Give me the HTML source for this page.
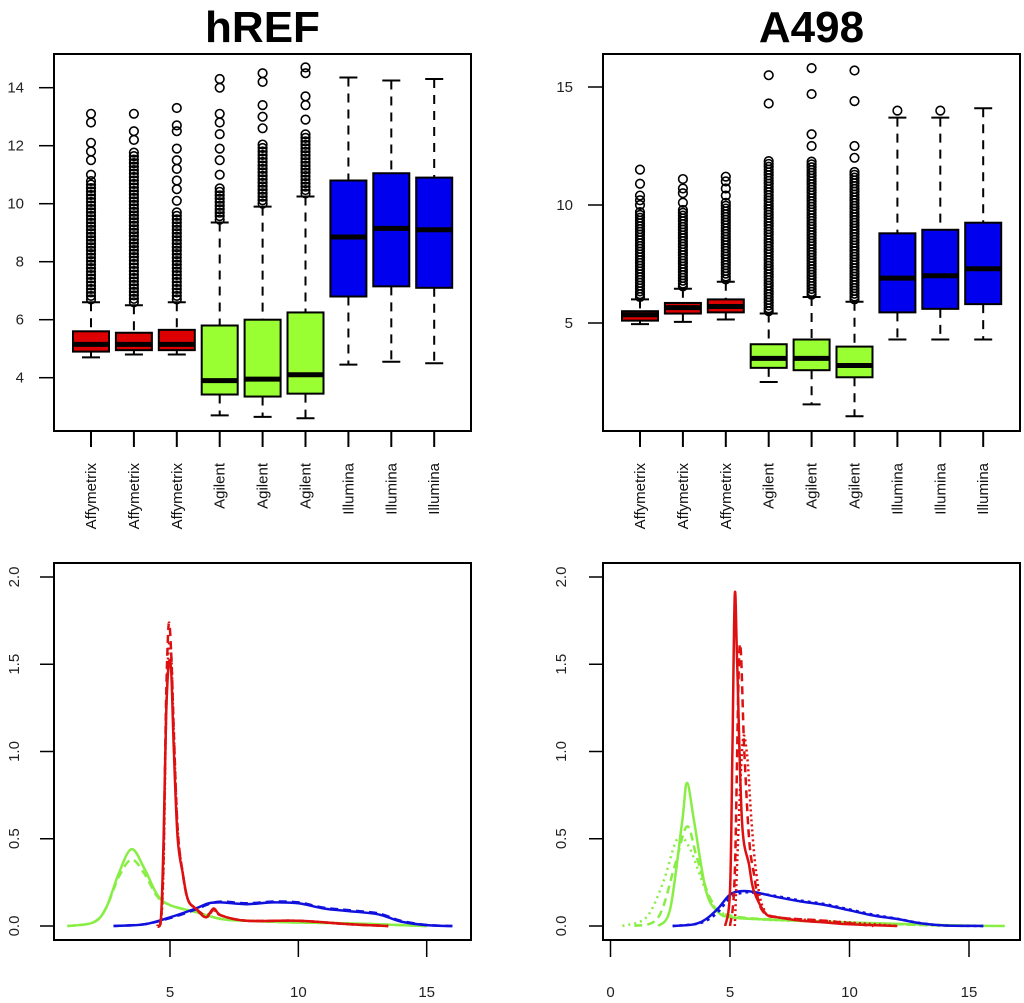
<!DOCTYPE html>
<html><head><meta charset="utf-8"><style>
body{margin:0;background:#fff}
svg{display:block;font-family:"Liberation Sans",sans-serif}
</style></head><body>
<svg id="fig" width="1024" height="1003"></svg>
<script>
// ---- Boxplot data (min, q1, median, q3, max) ----
const boxCategories = ["Affymetrix","Affymetrix","Affymetrix","Agilent","Agilent","Agilent","Illumina","Illumina","Illumina"];
const boxColors = ["#dd0000","#dd0000","#dd0000","#99ff33","#99ff33","#99ff33","#0000ee","#0000ee","#0000ee"];
const hrefMin = [4.7,4.8,4.8,2.7,2.65,2.6,4.45,4.55,4.5];
const hrefQ1 = [4.9,4.95,4.95,3.42,3.35,3.45,6.8,7.15,7.1];
const hrefMed = [5.15,5.15,5.15,3.9,3.95,4.1,8.85,9.15,9.1];
const hrefQ3 = [5.6,5.55,5.65,5.8,6.0,6.25,10.8,11.05,10.9];
const hrefMax = [6.6,6.5,6.6,9.35,9.9,10.25,14.35,14.25,14.3];
const hrefDenseTop = [10.8,11.8,9.8,10.6,12.1,12.5,null,null,null];
const hrefOutliers = [[11.0,11.5,11.8,12.1,12.8,13.1],[12.2,12.5,13.1],[10.1,10.5,10.8,11.2,11.5,11.9,12.5,12.7,13.3],[11.0,11.5,11.9,12.4,12.8,13.1,14.0,14.3],[12.6,13.0,13.4,14.2,14.5],[12.9,13.4,13.7,14.5,14.7],[],[],[]];
const a498Min = [4.95,5.05,5.15,2.5,1.55,1.05,4.3,4.3,4.3];
const a498Q1 = [5.1,5.4,5.45,3.1,3.0,2.7,5.45,5.6,5.8];
const a498Med = [5.35,5.65,5.7,3.5,3.5,3.2,6.9,7.0,7.3];
const a498Q3 = [5.5,5.85,6.0,4.1,4.3,4.0,8.8,8.95,9.25];
const a498Max = [6.0,6.45,6.75,5.4,6.1,5.9,13.7,13.7,14.1];
const a498DenseTop = [9.7,9.8,10.2,11.9,11.9,11.5,null,null,null];
const a498Outliers = [[10.0,10.2,10.4,10.9,11.5],[10.1,10.5,10.7,11.1],[10.4,10.7,11.0,11.2],[14.3,15.5],[12.5,13.0,14.7,15.8],[12.0,12.5,14.4,15.7],[14.0],[14.0],[]];
const hrefTicks = [4,6,8,10,12,14];
const a498Ticks = [5,10,15];
// ---- Density data ----
const leftRedX = [4.5,4.65,4.75,4.85,4.95,5.05,5.15,5.3,5.5,5.7,6.0,6.4,6.7,7.0,8,10,12,13.5];
const leftRedY = [0,0.05,0.5,1.2,1.5,1.45,1.0,0.5,0.3,0.15,0.1,0.05,0.1,0.06,0.03,0.03,0.01,0];
const leftRedY2 = [0,0.04,0.4,1.3,1.73,1.55,1.1,0.55,0.3,0.15,0.1,0.06,0.09,0.06,0.03,0.03,0.01,0];
const leftRedY3 = [0,0.03,0.35,1.2,1.6,1.55,1.1,0.55,0.3,0.15,0.1,0.05,0.09,0.06,0.03,0.03,0.01,0];
const leftGreenX = [1.0,2.0,2.5,3.0,3.5,4.0,4.5,5.0,6.0,7.0,8.0,10,12,14,15];
const leftGreenY = [0,0.02,0.1,0.3,0.44,0.33,0.18,0.12,0.08,0.04,0.03,0.02,0.015,0.005,0];
const leftGreenY2 = [0,0.02,0.1,0.28,0.38,0.3,0.17,0.12,0.08,0.04,0.03,0.02,0.015,0.005,0];
const leftBlueX = [2.8,4,5,6,6.5,7,8,9,10,11,12,13,13.5,14,15,16];
const leftBlueY = [0,0.01,0.05,0.1,0.13,0.135,0.125,0.135,0.13,0.1,0.085,0.07,0.05,0.025,0.005,0];
const leftBlueY2 = [0,0.01,0.045,0.095,0.125,0.14,0.13,0.14,0.135,0.105,0.09,0.075,0.055,0.03,0.006,0];
const rightRedX = [4.8,5.0,5.1,5.2,5.3,5.5,5.8,6.0,6.5,7,8,9,10,12];
const rightRedY = [0,0.2,1.0,1.9,1.5,0.6,0.35,0.2,0.07,0.05,0.03,0.02,0.01,0];
const rightRed2X = [5.0,5.2,5.4,5.6,5.8,6.0,6.3,7,9,11];
const rightRed2Y = [0,0.3,1.6,1.0,0.5,0.3,0.1,0.05,0.03,0];
const rightRed3X = [5.2,5.5,5.7,5.9,6.1,6.4,7,10,12];
const rightRed3Y = [0,1.0,1.0,0.6,0.3,0.1,0.05,0.02,0];
const rightGreenX = [2,2.5,3.0,3.2,3.5,4,4.5,5,6,8,10,14,16.5];
const rightGreenY = [0,0.1,0.6,0.82,0.6,0.2,0.08,0.05,0.04,0.03,0.02,0.005,0];
const rightGreen2X = [1,2,2.7,3.2,3.6,4.2,5,8,12,15];
const rightGreen2Y = [0,0.05,0.35,0.57,0.4,0.15,0.06,0.03,0.01,0];
const rightGreen3X = [0.5,1.5,2.2,2.8,3.3,4,4.6,6,10,14];
const rightGreen3Y = [0,0.05,0.25,0.5,0.45,0.2,0.08,0.04,0.02,0];
const rightBlueX = [2.6,3.5,4,4.5,5,5.5,6,7,8,9,10,11,12,13,14,15.6];
const rightBlueY = [0,0.01,0.04,0.1,0.18,0.2,0.195,0.165,0.14,0.12,0.09,0.06,0.04,0.015,0.003,0];
const rightBlueY2 = [0,0.01,0.03,0.08,0.16,0.19,0.19,0.17,0.145,0.125,0.095,0.065,0.042,0.016,0.003,0];
const densTicks = [0,0.5,1.0,1.5,2.0];
const leftXTicks = [5,10,15];
const rightXTicks = [0,5,10,15];

const NS="http://www.w3.org/2000/svg";
const svg=document.getElementById('fig');
function el(tag,attrs,parent){const e=document.createElementNS(NS,tag);for(const k in attrs)e.setAttribute(k,attrs[k]);(parent||svg).appendChild(e);return e;}

function boxPanel(p){
  const g=el('g',{});
  
  
  const t=el('text',{x:(p.x0+p.x1)/2,y:42,'text-anchor':'middle','font-size':44,'font-weight':'bold',fill:'#000'},g);
  t.textContent=p.title;
  
  
  const Y=v=>p.yRef-(v-p.vRef)*p.k;
  const ax=el('g',{},g);
  
  
  p.ticks.forEach(v=>{
    el('line',{x1:p.x0-15,x2:p.x0,y1:Y(v),y2:Y(v),stroke:'#000','stroke-width':1.5},ax);
    const tt=el('text',{x:p.x0-30,y:Y(v)+5,'text-anchor':'end','font-size':15,fill:'#222'},ax);
    tt.textContent=v;
  });
  p.mins.forEach((mn,i)=>{
    const cx=p.cx0+i*p.dx, w=18, col=p.colors[i];
    const b=el('g',{},g);
    
    
    el('line',{x1:cx,x2:cx,y1:Y(p.maxs[i]),y2:Y(p.q3[i]),stroke:'#000','stroke-width':2,'stroke-dasharray':'9,7'},b);
    el('line',{x1:cx,x2:cx,y1:Y(p.q1[i]),y2:Y(mn),stroke:'#000','stroke-width':2,'stroke-dasharray':'9,7'},b);
    el('line',{x1:cx-9,x2:cx+9,y1:Y(p.maxs[i]),y2:Y(p.maxs[i]),stroke:'#000','stroke-width':2},b);
    el('line',{x1:cx-9,x2:cx+9,y1:Y(mn),y2:Y(mn),stroke:'#000','stroke-width':2},b);
    el('rect',{x:cx-w,y:Y(p.q3[i]),width:2*w,height:Y(p.q1[i])-Y(p.q3[i]),fill:col,stroke:'#000','stroke-width':2},b);
    el('line',{x1:cx-w,x2:cx+w,y1:Y(p.med[i]),y2:Y(p.med[i]),stroke:'#000','stroke-width':5},b);
    const outs=[];
    if(p.dense[i]!==null){for(let v=p.maxs[i]+0.1;v<=p.dense[i];v+=0.12)outs.push(v);}
    p.outs[i].forEach(v=>outs.push(v));
    outs.forEach(v=>el('circle',{cx:cx,cy:Y(v),r:4.3,fill:'none',stroke:'#000','stroke-width':1.6},b));
    el('line',{x1:cx,x2:cx,y1:p.y1,y2:p.y1+16,stroke:'#000','stroke-width':2},b);
    const lb=el('text',{x:0,y:0,'text-anchor':'end','font-size':15,fill:'#111',transform:`translate(${cx+5},463) rotate(-90)`},b);
    lb.textContent=boxCategories[i];
    
    
  });
  el('rect',{x:p.x0,y:p.y0,width:p.x1-p.x0,height:p.y1-p.y0,fill:'none',stroke:'#000','stroke-width':2},g);
}

function smoothPath(pts){
  let d='M'+pts[0][0].toFixed(1)+','+pts[0][1].toFixed(1);
  for(let i=0;i<pts.length-1;i++){
    const p0=pts[Math.max(0,i-1)],p1=pts[i],p2=pts[i+1],p3=pts[Math.min(pts.length-1,i+2)];
    const c1x=p1[0]+(p2[0]-p0[0])/6,c1y=p1[1]+(p2[1]-p0[1])/6;
    const c2x=p2[0]-(p3[0]-p1[0])/6,c2y=p2[1]-(p3[1]-p1[1])/6;
    d+=` C${c1x.toFixed(1)},${c1y.toFixed(1)} ${c2x.toFixed(1)},${c2y.toFixed(1)} ${p2[0].toFixed(1)},${p2[1].toFixed(1)}`;
  }
  return d;
}

function densPanel(p){
  const g=el('g',{});
  
  
  const X=v=>p.xRef+(v-p.vRef)*p.kx;
  const Y=d=>926-d*174.5;
  densTicks.forEach(d=>{
    el('line',{x1:p.x0-14,x2:p.x0,y1:Y(d),y2:Y(d),stroke:'#000','stroke-width':1.5},g);
    const tt=el('text',{x:0,y:0,'text-anchor':'middle','font-size':15,fill:'#222',transform:`translate(${p.ylx},${Y(d)}) rotate(-90)`},g);
    tt.textContent=d.toFixed(1);
  });
  p.xticks.forEach(v=>{
    el('line',{x1:X(v),x2:X(v),y1:940,y2:957,stroke:'#000','stroke-width':1.5},g);
    const tt=el('text',{x:X(v),y:997,'text-anchor':'middle','font-size':15,fill:'#222'},g);
    tt.textContent=v;
  });
  p.series.forEach(s=>{
    const pts=s.x.map((v,i)=>[X(v),Math.min(926,Y(s.y[i]))]);
    const path=el('path',{d:smoothPath(pts),fill:'none',stroke:s.c,'stroke-width':2.5,'stroke-dasharray':s.dash||'none','stroke-linejoin':'round'},g);
    
    
  });
  el('rect',{x:p.x0,y:563,width:p.x1-p.x0,height:377,fill:'none',stroke:'#000','stroke-width':2},g);
}

boxPanel({name:'href-boxplot',title:'hREF',x0:54,x1:471,y0:54,y1:431,yRef:377.7,vRef:4,k:29,ticks:hrefTicks,cx0:91,dx:42.9,
  mins:hrefMin,q1:hrefQ1,med:hrefMed,q3:hrefQ3,maxs:hrefMax,dense:hrefDenseTop,outs:hrefOutliers,colors:boxColors});
boxPanel({name:'a498-boxplot',title:'A498',x0:603,x1:1020,y0:54,y1:431,yRef:323,vRef:5,k:23.6,ticks:a498Ticks,cx0:640,dx:42.9,
  mins:a498Min,q1:a498Q1,med:a498Med,q3:a498Q3,maxs:a498Max,dense:a498DenseTop,outs:a498Outliers,colors:boxColors});

const G='#88ee44',R='#dd1111',B='#1111dd';
densPanel({name:'href-density',x0:54,x1:471,xRef:170,vRef:5,kx:25.67,ylx:19,xticks:leftXTicks,series:[
  {x:leftGreenX,y:leftGreenY,c:G},{x:leftGreenX,y:leftGreenY2,c:G,dash:'8,5'},
  {x:leftBlueX,y:leftBlueY,c:B},{x:leftBlueX,y:leftBlueY2,c:B,dash:'8,5'},
  {x:leftRedX,y:leftRedY,c:R},{x:leftRedX,y:leftRedY2,c:R,dash:'8,5'},{x:leftRedX,y:leftRedY3,c:R,dash:'2,3'}]});
densPanel({name:'a498-density',x0:603,x1:1020,xRef:730,vRef:5,kx:23.9,ylx:566,xticks:rightXTicks,series:[
  {x:rightGreenX,y:rightGreenY,c:G},{x:rightGreen2X,y:rightGreen2Y,c:G,dash:'8,5'},{x:rightGreen3X,y:rightGreen3Y,c:G,dash:'2,4'},
  {x:rightBlueX,y:rightBlueY,c:B},{x:rightBlueX,y:rightBlueY2,c:B,dash:'3,4'},
  {x:rightRedX,y:rightRedY,c:R},{x:rightRed2X,y:rightRed2Y,c:R,dash:'8,5'},{x:rightRed3X,y:rightRed3Y,c:R,dash:'2,3'}]});
</script>
</body></html>
